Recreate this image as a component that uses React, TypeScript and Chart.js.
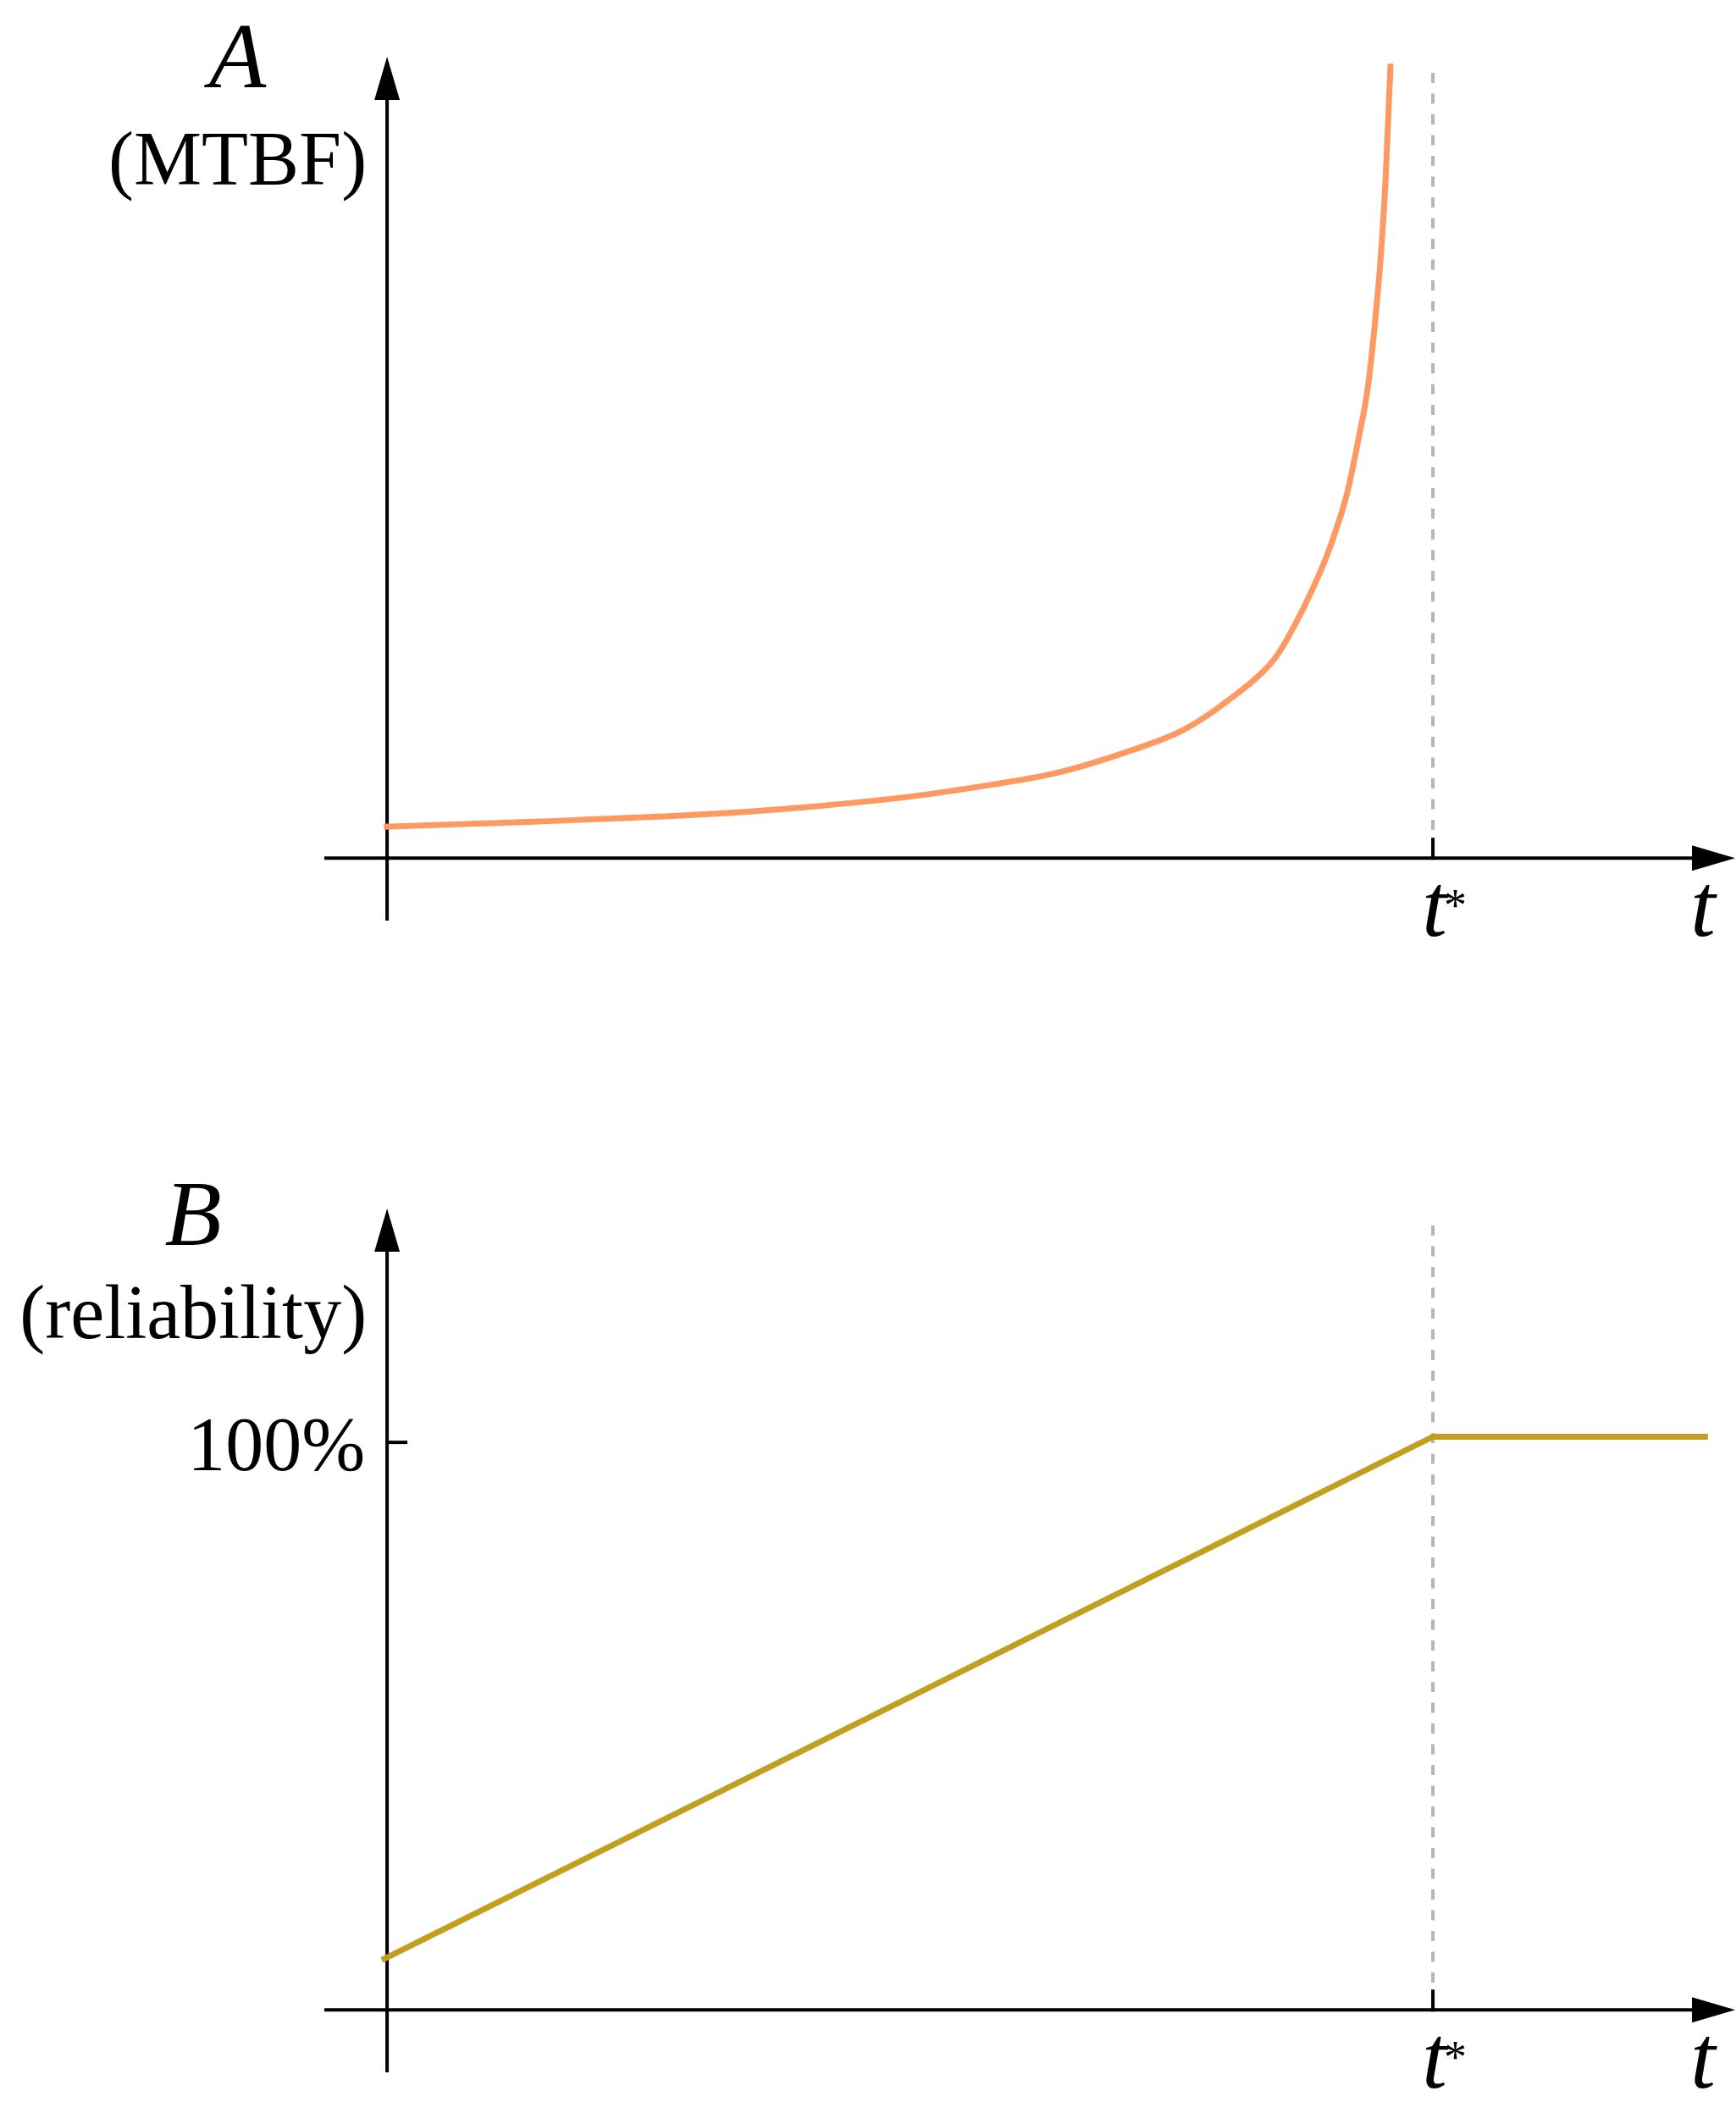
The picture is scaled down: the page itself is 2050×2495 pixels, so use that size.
import React, { useEffect, useRef } from "react";
import { Chart, registerables } from "chart.js";

Chart.register(...registerables);

// ---------------- data ----------------
const T_STAR = 1; // position of t* on the time axis
const timeRange = [-0.06, 1.289];

// Panel A: MTBF growing without bound as t -> t*
const mtbfTimes = [
  -0.003, 0.141, 0.296, 0.399, 0.503, 0.58, 0.642, 0.709, 0.761, 0.804, 0.845,
  0.858, 0.893, 0.9053, 0.9182, 0.9287, 0.9377, 0.9449, 0.9506, 0.9547, 0.9595,
];
const mtbfValues = [
  0.39, 0.455, 0.54, 0.634, 0.772, 0.92, 1.068, 1.332, 1.596, 1.966, 2.431,
  2.674, 3.594, 4.017, 4.567, 5.222, 5.867, 6.723, 7.59, 8.457, 9.915,
];
const mtbfRange = [-0.78, 10];
const mtbfGuide = [9.8, 0.254]; // dashed t* guide (top, bottom)

// Panel B: reliability rising linearly to 100% at t*
const relTimes = [-0.005, 1, 1.263];
const relValues = [8.8, 101, 101];
const relRange = [-11, 141.2];
const relGuide = [138.2, 3.7];
const relTickValue = 100;
const relTickLabel = "100%";

const titleA = ["A", "(MTBF)"];
const titleB = ["B", "(reliability)"];
const xTickLabel = "t";
const xTickStar = "*";
const xAxisLabel = "t";

// ---------------- styles ----------------
const SERIF = '"Liberation Serif", "DejaVu Serif", serif';
const ORANGE = "#ff9962";
const GOLD = "#c0a01e";
const GUIDE = "#b5b5b5";

type PanelOpts = {
  title: string[];
  letterOffset: number; // baseline below chartArea.top
  subOffset: number;
  yTick?: { value: number; label: string };
};

function makeAxesPlugin(opts: PanelOpts) {
  return {
    id: "arrowAxes",
    beforeDatasetsDraw(chart: any) {
      const { ctx, chartArea, scales } = chart;
      const xs = scales.x;
      const ys = scales.y;
      const x0 = xs.getPixelForValue(0);
      const y0 = ys.getPixelForValue(0);
      const aLen = 51;
      const aHalf = 15;
      ctx.save();
      ctx.strokeStyle = "#000";
      ctx.fillStyle = "#000";
      ctx.lineWidth = 4;
      ctx.lineCap = "butt";
      // vertical axis
      ctx.beginPath();
      ctx.moveTo(x0, chartArea.bottom);
      ctx.lineTo(x0, chartArea.top + aLen - 1);
      ctx.stroke();
      ctx.beginPath();
      ctx.moveTo(x0, chartArea.top);
      ctx.lineTo(x0 - aHalf, chartArea.top + aLen);
      ctx.lineTo(x0 + aHalf, chartArea.top + aLen);
      ctx.closePath();
      ctx.fill();
      // horizontal axis
      ctx.beginPath();
      ctx.moveTo(chartArea.left, y0);
      ctx.lineTo(chartArea.right - aLen + 1, y0);
      ctx.stroke();
      ctx.beginPath();
      ctx.moveTo(chartArea.right, y0);
      ctx.lineTo(chartArea.right - aLen, y0 - aHalf);
      ctx.lineTo(chartArea.right - aLen, y0 + aHalf);
      ctx.closePath();
      ctx.fill();
      // t* tick
      const xt = xs.getPixelForValue(T_STAR);
      ctx.beginPath();
      ctx.moveTo(xt, y0 + 2);
      ctx.lineTo(xt, y0 - 24);
      ctx.stroke();
      // y tick
      if (opts.yTick) {
        const yt = ys.getPixelForValue(opts.yTick.value);
        ctx.beginPath();
        ctx.moveTo(x0 - 2, yt);
        ctx.lineTo(x0 + 24, yt);
        ctx.stroke();
      }
      ctx.restore();
    },
    afterDraw(chart: any) {
      const { ctx, chartArea, scales } = chart;
      const xs = scales.x;
      const ys = scales.y;
      const x0 = xs.getPixelForValue(0);
      const y0 = ys.getPixelForValue(0);
      ctx.save();
      ctx.fillStyle = "#000";
      ctx.textBaseline = "alphabetic";
      // axis title
      ctx.font = `90px ${SERIF}`;
      const right = x0 - 24;
      const w = ctx.measureText(opts.title[1]).width;
      ctx.textAlign = "right";
      ctx.fillText(opts.title[1], right, chartArea.top + opts.subOffset);
      ctx.font = `italic 110px ${SERIF}`;
      ctx.textAlign = "center";
      ctx.fillText(opts.title[0], right - w / 2, chartArea.top + opts.letterOffset);
      // y tick label
      if (opts.yTick) {
        const yt = ys.getPixelForValue(opts.yTick.value);
        ctx.font = `90px ${SERIF}`;
        ctx.textAlign = "right";
        ctx.fillText(opts.yTick.label, x0 - 26, yt + 33);
      }
      // t* label
      const xt = xs.getPixelForValue(T_STAR);
      ctx.font = `italic 106px ${SERIF}`;
      ctx.textAlign = "center";
      ctx.fillText(xTickLabel, xt + 2, y0 + 92);
      ctx.font = `54px ${SERIF}`;
      ctx.textAlign = "left";
      ctx.fillText(xTickStar, xt + 13, y0 + 74);
      // t axis label
      ctx.font = `italic 106px ${SERIF}`;
      ctx.textAlign = "center";
      ctx.fillText(xAxisLabel, chartArea.right - 38, y0 + 92);
      ctx.restore();
    },
  };
}

function baseOptions(yRange: number[], padding: any) {
  return {
    responsive: false,
    animation: false as const,
    devicePixelRatio: 1,
    layout: { padding },
    plugins: { legend: { display: false }, tooltip: { enabled: false } },
    scales: {
      x: { type: "linear" as const, min: timeRange[0], max: timeRange[1], display: false },
      y: { type: "linear" as const, min: yRange[0], max: yRange[1], display: false },
    },
    elements: { point: { radius: 0 } },
  };
}

function Panel({
  height,
  build,
}: {
  height: number;
  build: (c: HTMLCanvasElement) => Chart;
}) {
  const ref = useRef<HTMLCanvasElement | null>(null);
  useEffect(() => {
    if (!ref.current) return;
    const chart = build(ref.current);
    return () => chart.destroy();
  }, []);
  return (
    <canvas
      ref={ref}
      width={2050}
      height={height}
      style={{ display: "block", width: 2050, height }}
    />
  );
}

function buildTop(canvas: HTMLCanvasElement) {
  return new Chart(canvas, {
    type: "line",
    data: {
      datasets: [
        {
          data: mtbfTimes.map((t, i) => ({ x: t, y: mtbfValues[i] })),
          borderColor: ORANGE,
          borderWidth: 7,
          cubicInterpolationMode: "monotone",
          borderCapStyle: "butt",
          fill: false,
          clip: false as any,
        },
        {
          data: [
            { x: T_STAR, y: mtbfGuide[0] },
            { x: T_STAR, y: mtbfGuide[1] },
          ],
          borderColor: GUIDE,
          borderWidth: 4,
          borderDash: [12, 12.5],
          tension: 0,
          fill: false,
        },
      ],
    },
    options: baseOptions(mtbfRange, { left: 383, right: 1, top: 67, bottom: 153 }) as any,
    plugins: [
      makeAxesPlugin({ title: titleA, letterOffset: 36, subOffset: 151 }),
    ],
  });
}

function buildBottom(canvas: HTMLCanvasElement) {
  return new Chart(canvas, {
    type: "line",
    data: {
      datasets: [
        {
          data: relTimes.map((t, i) => ({ x: t, y: relValues[i] })),
          borderColor: GOLD,
          borderWidth: 7,
          tension: 0,
          borderCapStyle: "butt",
          borderJoinStyle: "miter",
          fill: false,
          clip: false as any,
        },
        {
          data: [
            { x: T_STAR, y: relGuide[0] },
            { x: T_STAR, y: relGuide[1] },
          ],
          borderColor: GUIDE,
          borderWidth: 4,
          borderDash: [12, 12.5],
          tension: 0,
          fill: false,
        },
      ],
    },
    options: baseOptions(relRange, { left: 383, right: 1, top: 187, bottom: 48 }) as any,
    plugins: [
      makeAxesPlugin({
        title: titleB,
        letterOffset: 43,
        subOffset: 153,
        yTick: { value: relTickValue, label: relTickLabel },
      }),
    ],
  });
}

export default function App() {
  useEffect(() => {
    document.body.style.margin = "0";
  }, []);
  return (
    <div style={{ width: 2050, height: 2495, background: "#fff", overflow: "hidden" }}>
      <Panel height={1240} build={buildTop} />
      <Panel height={1255} build={buildBottom} />
    </div>
  );
}
